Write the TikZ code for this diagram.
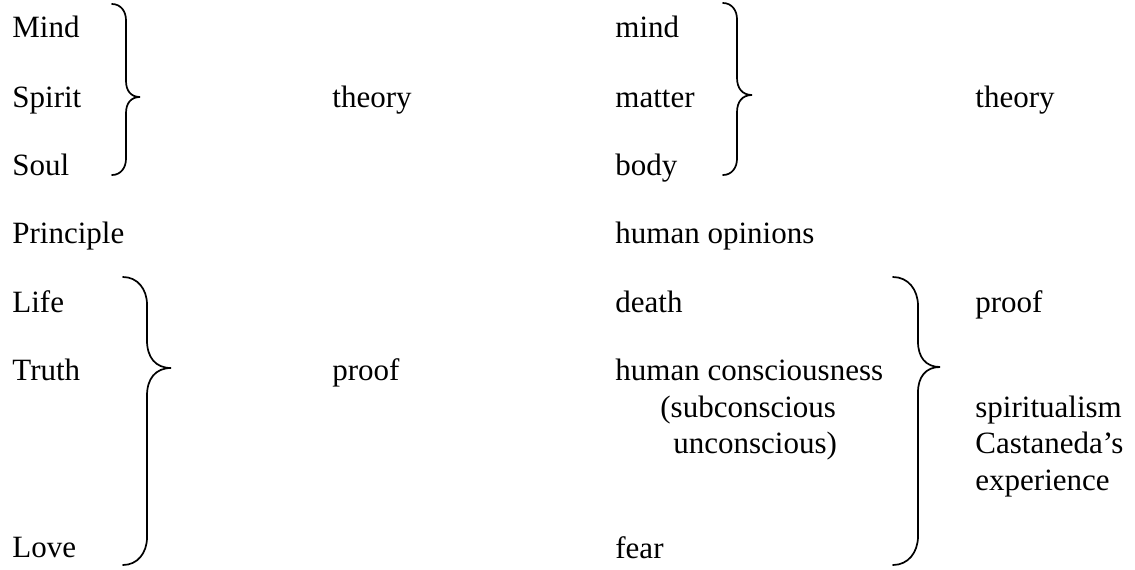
\documentclass[tikz,border=0pt]{standalone}
\usepackage{fontspec}
\setmainfont{Liberation Serif}
\usepackage{tikz}
\usetikzlibrary{positioning}

\begin{document}
\begin{tikzpicture}[
  x=0.5pt,y=-0.5pt,
  font=\fontsize{15.5}{18}\selectfont,
  word/.style={anchor=base west,inner sep=0pt},
  bracket/.style={line width=0.85pt,line cap=round}
]
\useasboundingbox (0,0) rectangle (1135,569);

% Left column
\foreach \lab/\yy in {Mind/37,Spirit/107,Soul/175,Principle/243,Life/312,Truth/380,Love/557} {
  \node[word] (left\lab) at (12,\yy) {\lab};
}
\node[word] (lefttheory) at (332,107) {theory};
\node[word] (leftproof) at (332,380) {proof};

% Right column
\foreach \lab/\yy in {mind/37,matter/107,body/175,death/312,fear/558} {
  \node[word] (right\lab) at (615,\yy) {\lab};
}
\node[word] (opinions) at (615,243) {human opinions};
\node[word] (conscious) at (615,380) {human consciousness};
\node[word] (subcons) at (660,417) {(subconscious};
\node[word] (uncons) at (673,453) {unconscious)};
\node[word] (righttheory) at (975,107) {theory};
\node[word] (rightproof) at (975,312) {proof};
\node[word] (spirit) at (975,417) {spiritualism};
\node[word] (castaneda) at (975,453) {Castaneda's};
\node[word] (experience) at (975,490) {experience};

% Braces: name / end x / stem x / tip x / top / tip y / bottom
\foreach \nm/\xe/\xv/\xt/\yt/\ym/\yb in {
    leftup/112/126/140/4/97/175,
    rightup/723/737/752/3/95/175,
    leftdown/123/147/171/277/368/565,
    rightdown/893/918/940/277/367/565} {
  \pgfmathsetmacro{\ra}{\xv-\xe}
  \pgfmathsetmacro{\rb}{\xt-\xv}
  \coordinate (\nm top) at (\xe,\yt);
  \coordinate (\nm tip) at (\xt,\ym);
  \coordinate (\nm bot) at (\xe,\yb);
  \draw[bracket] (\nm top)
    .. controls (\xe+0.6*\ra,\yt) and (\xv,\yt+0.5*\ra) .. (\xv,\yt+1.15*\ra)
    -- (\xv,\ym-1.15*\rb)
    .. controls (\xv,\ym-0.45*\rb) and (\xv+0.35*\rb,\ym) .. (\nm tip)
    .. controls (\xv+0.35*\rb,\ym) and (\xv,\ym+0.45*\rb) .. (\xv,\ym+1.15*\rb)
    -- (\xv,\yb-1.15*\ra)
    .. controls (\xv,\yb-0.5*\ra) and (\xe+0.6*\ra,\yb) .. (\nm bot);
}

\end{tikzpicture}
\end{document}
